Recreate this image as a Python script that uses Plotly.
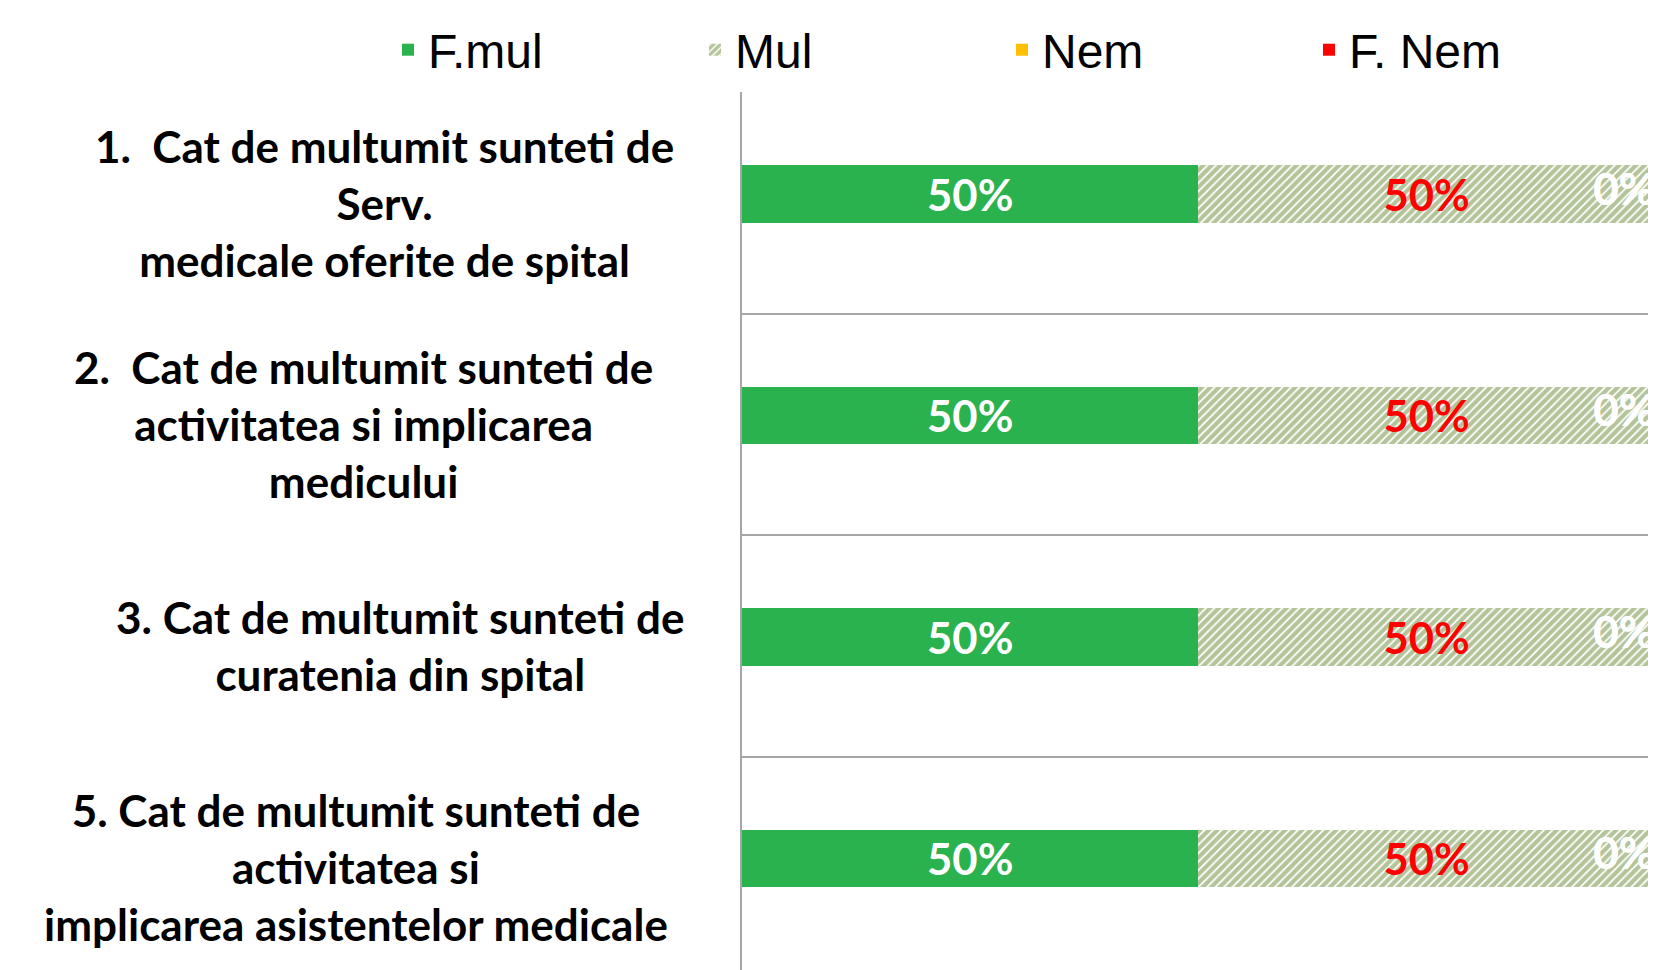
import plotly.graph_objects as go

categories = [
    "1.  Cat de multumit sunteti de<br>Serv.<br>medicale oferite de spital",
    "2.  Cat de multumit sunteti de<br>activitatea si implicarea<br>medicului",
    "3. Cat de multumit sunteti de<br>curatenia din spital",
    "5. Cat de multumit sunteti de<br>activitatea si<br>implicarea asistentelor medicale",
]
label_x = [376, 355, 392, 348]  # pixel centers of the category labels (layout only)
series_names = ["F.mul", "Mul", "Nem", "F. Nem"]
f_mul = [50, 50, 50, 50]
mul = [50, 50, 50, 50]
nem = [0, 0, 0, 0]
f_nem = [0, 0, 0, 0]

W, H = 1656, 970
ML, MT = 734, 84
ypos = list(range(len(categories)))
BW, BOFF = 0.26, -0.17   # bar thickness / offset (styling)

fig = go.Figure()
lab_font = dict(family="Lato, 'Open Sans', sans-serif", size=44)

fig.add_trace(go.Bar(
    name=series_names[0], y=ypos, x=f_mul, orientation="h", width=BW, offset=BOFF,
    marker=dict(color="#2AB24E", line=dict(width=0)),
    text=[f"<b>{v}%</b>" for v in f_mul], textposition="inside", insidetextanchor="middle",
    insidetextfont=dict(color="white", **lab_font), textangle=0,
))
fig.add_trace(go.Bar(
    name=series_names[1], y=ypos, x=mul, orientation="h", width=BW, offset=BOFF,
    marker=dict(color="#FFFFFF", line=dict(width=0),
                pattern=dict(shape="/", fgcolor="#6A8A35", bgcolor="#FFFFFF", size=6, solidity=0.7)),
    text=[f"<b>{v}%</b>" for v in mul], textposition="inside", insidetextanchor="middle",
    insidetextfont=dict(color="#FF0000", **lab_font), textangle=0,
))
fig.add_trace(go.Bar(
    name=series_names[2], y=ypos, x=nem, orientation="h", width=BW, offset=BOFF,
    marker=dict(color="#FFC000", line=dict(width=0)),
))
fig.add_trace(go.Bar(
    name=series_names[3], y=ypos, x=f_nem, orientation="h", width=BW, offset=BOFF,
    marker=dict(color="#FF0000", line=dict(width=0)),
))

# zero-value labels at the end of the stacks
yc = [y + BOFF + BW / 2 for y in ypos]
for vals, prev in [(nem, [a + b for a, b in zip(f_mul, mul)]),
                   (f_nem, [a + b + c for a, b, c in zip(f_mul, mul, nem)])]:
    fig.add_trace(go.Scatter(
        x=[p + v for p, v in zip(prev, vals)], y=yc, mode="text",
        text=[f"<b>{v}%</b>" for v in vals], textposition="middle left",
        textfont=dict(color="white", **lab_font), cliponaxis=False,
        showlegend=False, hoverinfo="skip",
    ))

plot_w = W - ML
plot_h = H - MT
for i, cat in enumerate(categories):
    fig.add_annotation(
        text=f"<b>{cat}</b>", xref="paper", yref="y",
        x=(label_x[i] - ML) / plot_w, y=ypos[i], xanchor="center", yanchor="middle",
        showarrow=False, align="center",
        font=dict(family="Lato, 'Open Sans', sans-serif", size=44, color="#000000", weight=900),
    )

fig.update_layout(
    width=W, height=H,
    margin=dict(l=ML, r=0, t=MT, b=0, pad=0),
    plot_bgcolor="white", paper_bgcolor="white",
    barmode="stack",
    showlegend=True,
    legend=dict(
        orientation="h", traceorder="normal", x=(380 - ML) / plot_w, xanchor="left",
        y=1 + (MT - 4) / plot_h, yanchor="top",
        font=dict(family="'Liberation Sans', sans-serif", size=48, color="#000000"),
        entrywidth=262, entrywidthmode="pixels", itemwidth=30,
        bgcolor="rgba(0,0,0,0)",
    ),
    xaxis=dict(range=[0, 101], showgrid=False, zeroline=False, showticklabels=False,
               showline=False, fixedrange=True),
    yaxis=dict(range=[len(categories) - 0.5, -0.5], tickvals=[-0.5, 0.5, 1.5, 2.5, 3.5],
               showticklabels=False, showgrid=True, gridcolor="#A6A6A6", gridwidth=1.5,
               zeroline=False, showline=True, linecolor="#A6A6A6", linewidth=1.5,
               ticks="", fixedrange=True),
)

fig.write_html("out.html")
